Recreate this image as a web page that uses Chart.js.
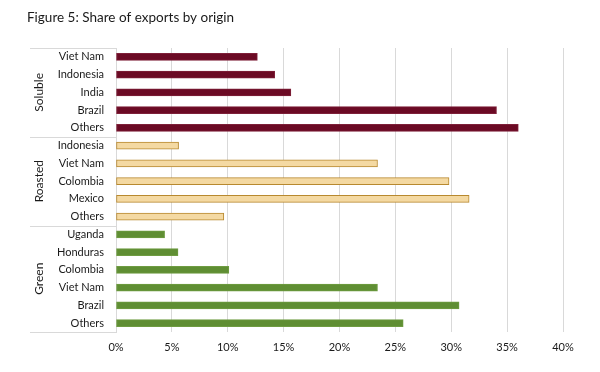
<!DOCTYPE html>
<html><head><meta charset="utf-8">
<script src="https://cdn.jsdelivr.net/npm/chart.js@4"></script>
<style>html,body{margin:0;padding:0;background:#fff}#wrap{width:600px;height:372px;position:relative}</style>
</head><body><div id="wrap"><canvas id="c" width="600" height="372"></canvas></div>
<script>
const title = "Figure 5: Share of exports by origin";
const groups = ["Soluble", "Roasted", "Green"];
const solubleOrigins = ["Viet Nam", "Indonesia", "India", "Brazil", "Others"];
const solubleShare = [12.65, 14.2, 15.65, 34.05, 36.0];
const roastedOrigins = ["Indonesia", "Viet Nam", "Colombia", "Mexico", "Others"];
const roastedShare = [5.6, 23.4, 29.8, 31.6, 9.65];
const greenOrigins = ["Uganda", "Honduras", "Colombia", "Viet Nam", "Brazil", "Others"];
const greenShare = [4.35, 5.55, 10.1, 23.4, 30.7, 25.7];
const xTicks = [0, 5, 10, 15, 20, 25, 30, 35, 40];

const groupFill = {Soluble: "#6B0A24", Roasted: "#F4D9A2", Green: "#5F8E33"};
const groupBorder = {Soluble: "#7E2039", Roasted: "#B8892F", Green: "#6F9C42"};

const labels = [...solubleOrigins, ...roastedOrigins, ...greenOrigins];
const values = [...solubleShare, ...roastedShare, ...greenShare];
const groupOf = [...solubleOrigins.map(()=>"Soluble"), ...roastedOrigins.map(()=>"Roasted"), ...greenOrigins.map(()=>"Green")];
const groupSizes = [solubleOrigins.length, roastedOrigins.length, greenOrigins.length];

const FONT = "Lato";
const LINE = "#D9D9D9";

const groupPlugin = {
  id: "groupPlugin",
  afterDraw(chart) {
    const ctx = chart.ctx;
    const y = chart.scales.y;
    const area = chart.chartArea;
    const half = (y.getPixelForValue(1) - y.getPixelForValue(0)) / 2;
    const xl = 30, xr = area.left;
    ctx.save();
    ctx.strokeStyle = LINE; ctx.lineWidth = 1;
    let start = 0;
    const bounds = [y.getPixelForValue(0) - half];
    groupSizes.forEach(n => { start += n; bounds.push(y.getPixelForValue(start - 1) + half); });
    bounds.forEach(b => {
      const yy = Math.round(b) + 0.5;
      ctx.beginPath(); ctx.moveTo(xl, yy); ctx.lineTo(xr, yy); ctx.stroke();
    });
    ctx.fillStyle = "#1a1a1a";
    ctx.font = "12px " + FONT;
    ctx.textAlign = "center"; ctx.textBaseline = "middle";
    groups.forEach((g, i) => {
      const mid = (bounds[i] + bounds[i+1]) / 2;
      ctx.save(); ctx.translate(39, mid); ctx.rotate(-Math.PI/2);
      ctx.fillText(g, 0, 0); ctx.restore();
    });
    ctx.font = "13.5px " + FONT;
    ctx.textAlign = "left"; ctx.textBaseline = "alphabetic";
    ctx.fillStyle = "#1a1a1a";
    ctx.fillText(title, 27, 22);
    ctx.restore();
  }
};

new Chart(document.getElementById("c"), {
  type: "bar",
  data: {
    labels,
    datasets: [{
      data: values,
      backgroundColor: groupOf.map(g => groupFill[g]),
      borderColor: groupOf.map(g => groupBorder[g]),
      borderWidth: 1,
      borderSkipped: false,
      barThickness: 7
    }]
  },
  options: {
    indexAxis: "y",
    responsive: false,
    animation: false,
    layout: {padding: {left: 30, right: 37, top: 48, bottom: 10}},
    plugins: {legend: {display: false}, tooltip: {enabled: false}, title: {display: false}},
    scales: {
      x: {
        min: 0, max: 40,
        afterBuildTicks: s => { s.ticks = xTicks.map(v => ({value: v})); },
        afterFit: s => { s.height = 30; },
        grid: {color: LINE, drawTicks: false},
        border: {display: false},
        ticks: {callback: v => v + "%", color: "#1a1a1a", font: {family: FONT, size: 11}, padding: 9}
      },
      y: {
        afterFit: s => { s.width = 86; },
        grid: {display: false, drawTicks: false},
        border: {display: true, color: LINE},
        ticks: {color: "#1a1a1a", font: {family: FONT, size: 11}, padding: 12, autoSkip: false}
      }
    }
  },
  plugins: [groupPlugin]
});
</script>
</body></html>
